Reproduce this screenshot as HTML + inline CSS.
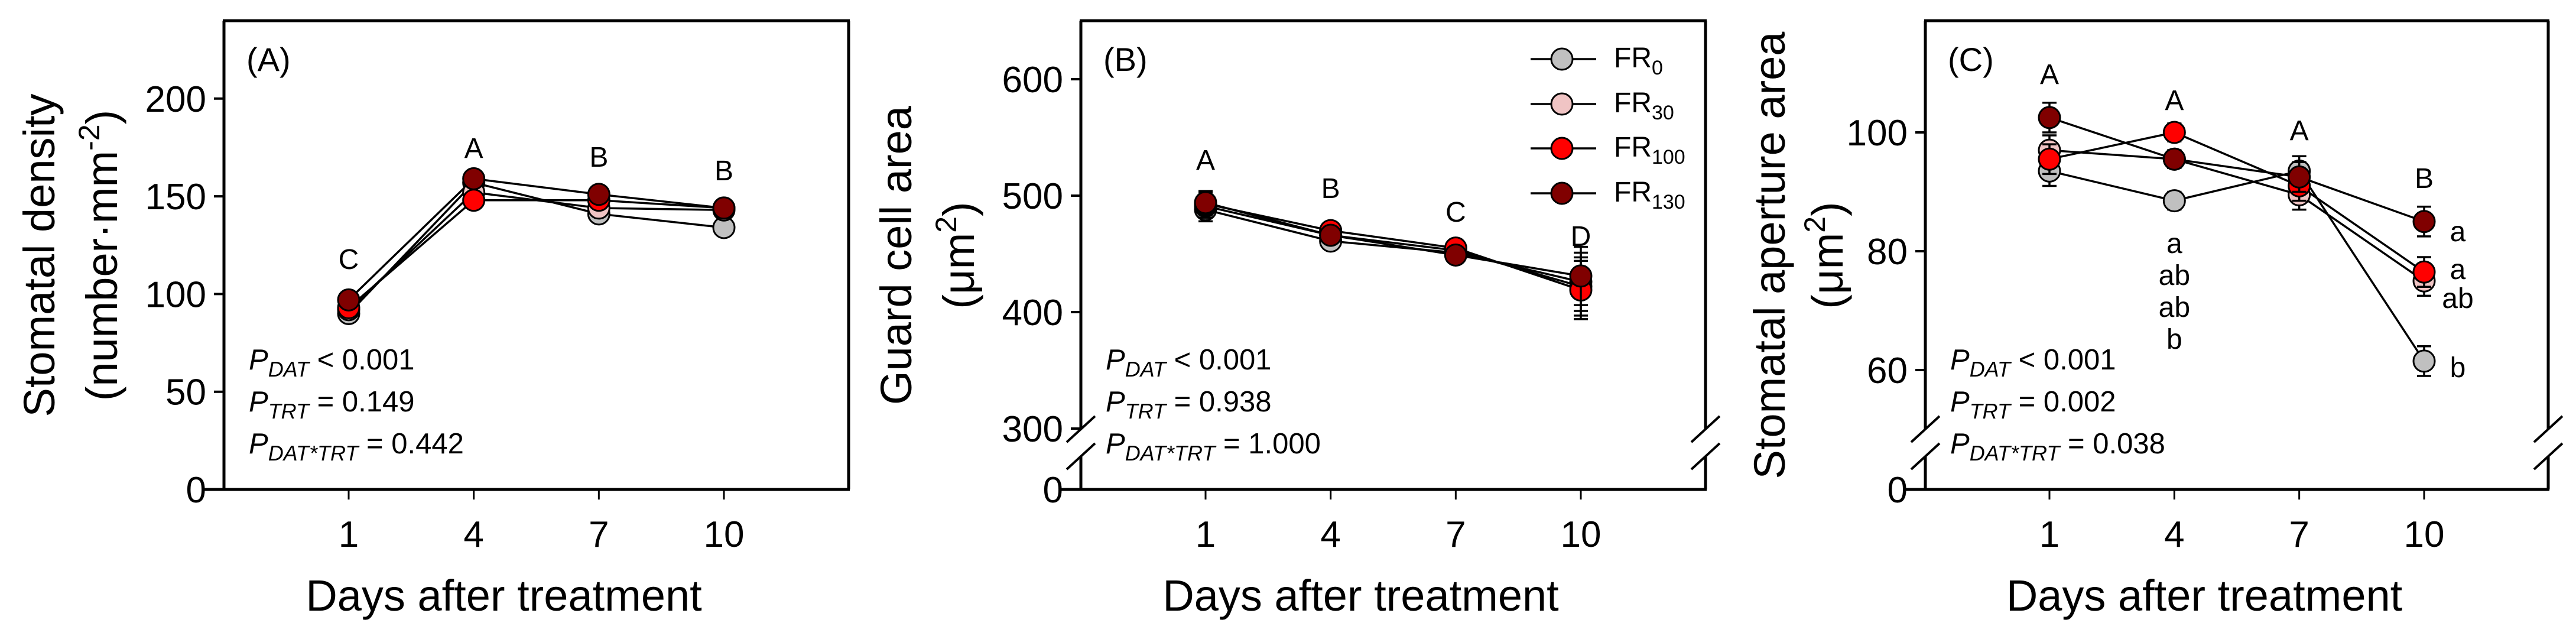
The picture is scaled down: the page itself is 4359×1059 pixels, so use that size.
<!DOCTYPE html>
<html><head><meta charset="utf-8"><style>
html,body{margin:0;padding:0;background:#fff;}
svg{display:block;font-family:"Liberation Sans",Arial,sans-serif;}
</style></head><body>
<svg id="chart" xmlns="http://www.w3.org/2000/svg" width="4359" height="1059" viewBox="0 0 4359 1059"></svg>
<script>
const days = [1, 4, 7, 10];
const seriesNames = ["FR0", "FR30", "FR100", "FR130"];
const seriesColors = ["#c0c0c0", "#f0c4c4", "#ff0000", "#800000"];
// Panel A: stomatal density
const aFR0 = [90, 157, 141, 134];
const aFR30 = [92, 152, 144, 143];
const aFR100 = [93, 148, 148, 144];
const aFR130 = [97, 159, 151, 144];
const aErr = [3, 3, 3, 3];
const aLetters = ["C", "A", "B", "B"];
const aTicks = [0, 50, 100, 150, 200];
// Panel B: guard cell area
const bFR0 = [488, 461, 451, 426];
const bFR30 = [491, 466, 453, 422];
const bFR100 = [493, 470, 455, 419];
const bFR130 = [494, 466, 449, 431];
const bErr = [10, 6, 5, 25];
const bLetters = ["A", "B", "C", "D"];
const bTicks = [0, 300, 400, 500, 600];
// Panel C: stomatal aperture area
const cFR0 = [93.5, 88.5, 93.5, 61.5];
const cFR30 = [97, 95.5, 89.5, 75];
const cFR100 = [95.5, 100, 91, 76.5];
const cFR130 = [102.5, 95.5, 92.5, 85];
const cErr = [2.5, 1.5, 2.5, 2.5];
const cLetters = ["A", "A", "A", "B"];
const cTicks = [0, 60, 80, 100];

const NS = "http://www.w3.org/2000/svg";
const svg = document.getElementById("chart");
function mk(tag, attrs, parent, text) {
  const e = document.createElementNS(NS, tag);
  for (const k in attrs) e.setAttribute(k, attrs[k]);
  if (text !== undefined) e.textContent = text;
  (parent || svg).appendChild(e);
  return e;
}
const Y0 = 828, YTOP = 35;

function panel(cfg) {
  const g = mk("g", {});
  
  
  const xMap = d => cfg.x1 + (d - 1) * (cfg.x10 - cfg.x1) / 9;
  const yMap = v => v === 0 ? Y0 : cfg.yRef - (v - cfg.vRef) * cfg.ppu;
  const fr = mk("g", {stroke: "#000", "stroke-width": 5, fill: "none"}, g);
  
  
  mk("line", {x1: cfg.left - 35, y1: Y0, x2: cfg.right + 2, y2: Y0}, fr);
  mk("line", {x1: cfg.left - 2, y1: YTOP, x2: cfg.right + 2, y2: YTOP}, fr);
  if (cfg.brk) {
    const [b1, b2] = cfg.brk;
    for (const x of [cfg.left, cfg.right]) {
      mk("line", {x1: x, y1: YTOP, x2: x, y2: b1}, fr);
      mk("line", {x1: x, y1: b2, x2: x, y2: Y0}, fr);
      const bk1 = mk("line", {x1: x - 24, y1: b1 + 22, x2: x + 24, y2: b1 - 22, "stroke-width": 4}, fr);
      
      
      const bk2 = mk("line", {x1: x - 24, y1: b2 + 22, x2: x + 24, y2: b2 - 22, "stroke-width": 4}, fr);
      
      
    }
  } else {
    mk("line", {x1: cfg.left, y1: YTOP, x2: cfg.left, y2: Y0}, fr);
    mk("line", {x1: cfg.right, y1: YTOP, x2: cfg.right, y2: Y0}, fr);
  }
  cfg.ticks.forEach(t => {
    const y = yMap(t);
    mk("line", {x1: cfg.left - 17, y1: y, x2: cfg.left, y2: y, stroke: "#000", "stroke-width": 4}, g);
    const tl = mk("text", {x: cfg.left - 30, y: y + 22, "font-size": 62, "text-anchor": "end"}, g, String(t));
    
    
  });
  days.forEach(d => {
    const x = xMap(d);
    mk("line", {x1: x, y1: Y0, x2: x, y2: Y0 + 17, stroke: "#000", "stroke-width": 3}, g);
    const tl = mk("text", {x: x, y: 925, "font-size": 62, "text-anchor": "middle"}, g, String(d));
    
    
  });
  const xt = mk("text", {x: (cfg.left + cfg.right) / 2 - 55, y: 1033, "font-size": 74, "text-anchor": "middle"}, g, "Days after treatment");
  
  
  const yt = mk("text", {transform: `translate(${cfg.ytx1},432) rotate(-90)`, "font-size": 74, "text-anchor": "middle"}, g, cfg.yt1);
  
  
  const yt2 = mk("text", {transform: `translate(${cfg.ytx2},432) rotate(-90)`, "font-size": 74, "text-anchor": "middle"}, g);
  
  
  mk("tspan", {}, yt2, cfg.yt2a);
  mk("tspan", {"font-size": 50, dy: -30}, yt2, cfg.yt2sup);
  mk("tspan", {dy: 30}, yt2, ")");
  const pl = mk("text", {x: cfg.left + 38, y: 120, "font-size": 56}, g, cfg.label);
  
  
  cfg.series.forEach((vals, si) => {
    const sg = mk("g", {}, g);
    
    
    const pts = vals.map((v, i) => xMap(days[i]) + "," + yMap(v)).join(" ");
    const pl2 = mk("polyline", {points: pts, fill: "none", stroke: "#000", "stroke-width": 3.5}, sg);
    
    
  });
  cfg.series.forEach((vals, si) => {
    const sg = mk("g", {}, g);
    vals.forEach((v, i) => {
      const x = xMap(days[i]);
      const e = cfg.err[i];
      const eb = mk("g", {stroke: "#000", "stroke-width": 3.5}, sg);
      
      
      mk("line", {x1: x, y1: yMap(v - e), x2: x, y2: yMap(v + e)}, eb);
      mk("line", {x1: x - 12, y1: yMap(v - e), x2: x + 12, y2: yMap(v - e)}, eb);
      mk("line", {x1: x - 12, y1: yMap(v + e), x2: x + 12, y2: yMap(v + e)}, eb);
      const c = mk("circle", {cx: x, cy: yMap(v), r: 18, fill: seriesColors[si], stroke: "#000", "stroke-width": 3}, sg);
      
      
    });
  });
  cfg.letters.forEach((L, i) => {
    const t = mk("text", {x: xMap(days[i]), y: cfg.letterY[i], "font-size": 48, "text-anchor": "middle"}, g, L);
    
    
  });
  const pv = cfg.pvals;
  const pys = [625, 696, 767];
  const subs = ["DAT", "TRT", "DAT*TRT"];
  const ops = [" < ", " = ", " = "];
  subs.forEach((s, i) => {
    const t = mk("text", {x: cfg.left + 42, y: pys[i], "font-size": 49}, g);
    
    
    mk("tspan", {"font-style": "italic"}, t, "P");
    mk("tspan", {"font-style": "italic", "font-size": 36, dy: 12}, t, s);
    mk("tspan", {dy: -12}, t, ops[i] + pv[i]);
  });
  return {g, xMap, yMap};
}

panel({name: "panel-a-stomatal-density", left: 379, right: 1436, x1: 590, x10: 1225,
  yRef: 828, vRef: 0, ppu: 165.3 / 50, ticks: aTicks, brk: null,
  series: [aFR0, aFR30, aFR100, aFR130], err: aErr, letters: aLetters, letterY: [455, 267, 282, 305],
  label: "(A)", yt1: "Stomatal density", ytx1: 92, yt2a: "(number·mm", yt2sup: "-2", ytx2: 198,
  pvals: ["0.001", "0.149", "0.442"]});

panel({name: "panel-b-guard-cell-area", left: 1829, right: 2886, x1: 2040, x10: 2675,
  yRef: 528, vRef: 400, ppu: 1.97, ticks: bTicks, brk: [726, 772],
  series: [bFR0, bFR30, bFR100, bFR130], err: bErr, letters: bLetters, letterY: [287, 335, 375, 416],
  label: "(B)", yt1: "Guard cell area", ytx1: 1542, yt2a: "(μm", yt2sup: "2", ytx2: 1648,
  pvals: ["0.001", "0.938", "1.000"]});

const pc = panel({name: "panel-c-aperture-area", left: 3258, right: 4312, x1: 3468, x10: 4102,
  yRef: 626, vRef: 60, ppu: 10.05, ticks: cTicks, brk: [726, 772],
  series: [cFR0, cFR30, cFR100, cFR130], err: cErr, letters: cLetters, letterY: [142, 186, 237, 318],
  label: "(C)", yt1: "Stomatal aperture area", ytx1: 3020, yt2a: "(μm", yt2sup: "2", ytx2: 3118,
  pvals: ["0.001", "0.002", "0.038"]});

const day4Letters = ["a", "ab", "ab", "b"];
const day4LetterY = [428, 482, 536, 590];
const day10Letters = ["a", "a", "ab", "b"];
const day10LetterY = [408, 472, 521, 638];
day4Letters.forEach((L, i) => {
  const t = mk("text", {x: pc.xMap(4), y: day4LetterY[i], "font-size": 48, "text-anchor": "middle"}, pc.g, L);
  
  
});
day10Letters.forEach((L, i) => {
  const t = mk("text", {x: 4159, y: day10LetterY[i], "font-size": 48, "text-anchor": "middle"}, pc.g, L);
  
  
});

const lg = mk("g", {});


const legY = [100, 176, 251, 327];
const legSub = ["0", "30", "100", "130"];
seriesNames.forEach((n, i) => {
  const e = mk("g", {}, lg);
  
  
  mk("line", {x1: 2590, y1: legY[i], x2: 2701, y2: legY[i], stroke: "#000", "stroke-width": 3.5}, e);
  mk("circle", {cx: 2643, cy: legY[i], r: 18, fill: seriesColors[i], stroke: "#000", "stroke-width": 3}, e);
  const t = mk("text", {x: 2731, y: legY[i] + 14, "font-size": 48}, e);
  mk("tspan", {}, t, "FR");
  mk("tspan", {"font-size": 34, dy: 12}, t, legSub[i]);
});
</script>
</body></html>
